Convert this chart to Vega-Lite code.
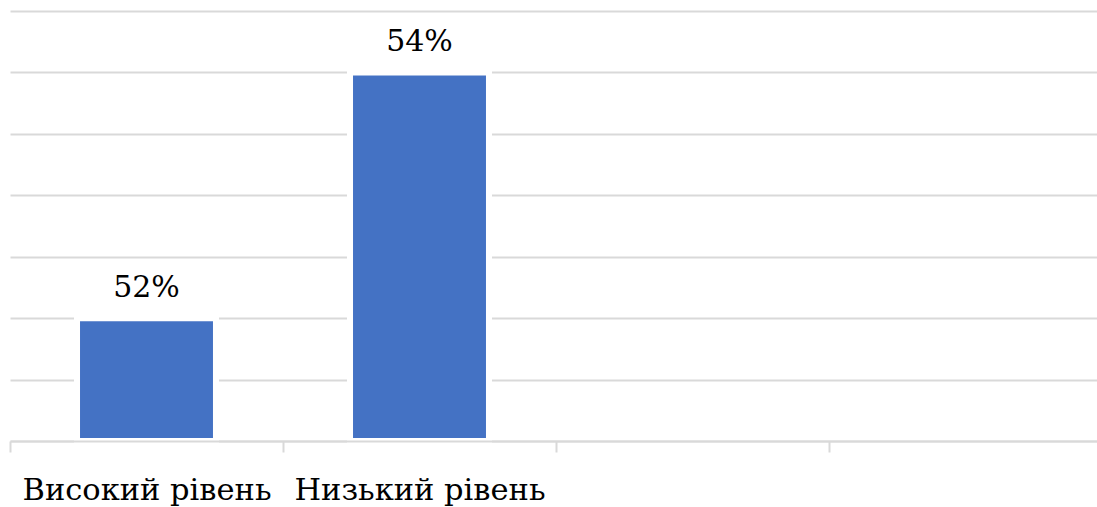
{
  "$schema": "https://vega.github.io/schema/vega-lite/v6.json",
  "autosize": {"type": "none"},
  "padding": {"left": 10, "top": 11, "right": 0, "bottom": 66},
  "width": 1092,
  "height": 430,
  "background": "white",
  "config": {
    "view": {"stroke": null},
    "font": "DejaVu Serif"
  },
  "data": {
    "values": [
      {"level": "Високий рівень", "share": 0.52},
      {"level": "Низький рівень", "share": 0.54}
    ]
  },
  "encoding": {
    "x": {
      "field": "level",
      "type": "nominal",
      "sort": null,
      "scale": {
        "domain": ["Високий рівень", "Низький рівень", " ", "  "],
        "paddingInner": 0,
        "paddingOuter": 0
      },
      "axis": {
        "title": null,
        "labelAngle": 0,
        "labelFont": "DejaVu Serif",
        "labelFontSize": 30.5,
        "labelColor": "#000000",
        "labelBaseline": "alphabetic",
        "labelPadding": 47,
        "labelLimit": 0,
        "tickBand": "extent",
        "tickSize": 11,
        "tickWidth": 2,
        "tickColor": "#d9d9d9",
        "domainColor": "#d9d9d9",
        "domainWidth": 2,
        "grid": false,
        "zindex": 1
      }
    },
    "y": {
      "field": "share",
      "type": "quantitative",
      "scale": {"domain": [0.51, 0.545], "nice": false, "zero": false},
      "axis": {
        "title": null,
        "labels": false,
        "ticks": false,
        "domain": false,
        "values": [0.51, 0.515, 0.52, 0.525, 0.53, 0.535, 0.54, 0.545],
        "grid": true,
        "gridColor": "#d9d9d9",
        "gridWidth": 2
      }
    }
  },
  "layer": [
    {
      "mark": {
        "type": "bar",
        "color": "#4472c4",
        "stroke": "#ffffff",
        "strokeWidth": 6,
        "width": {"band": 0.509}
      },
      "encoding": {
        "y2": {"datum": 0.51}
      }
    },
    {
      "mark": {
        "type": "text",
        "baseline": "alphabetic",
        "dy": -21,
        "font": "DejaVu Serif",
        "fontSize": 30,
        "color": "#000000"
      },
      "encoding": {
        "text": {"field": "share", "type": "quantitative", "format": ".0%"}
      }
    }
  ]
}
